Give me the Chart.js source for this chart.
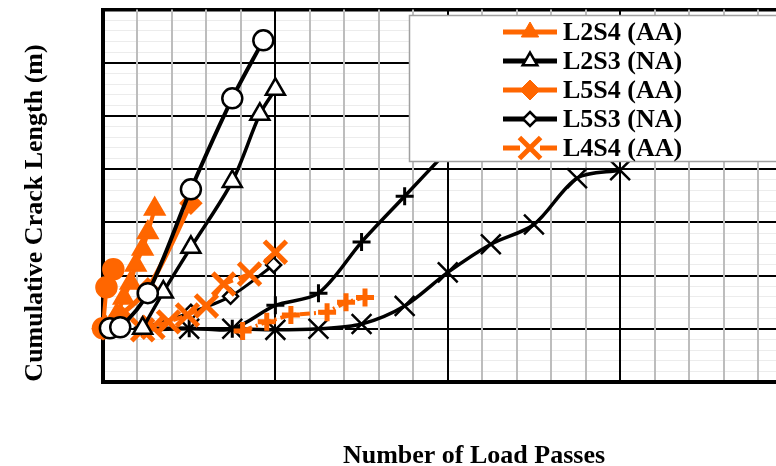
<!DOCTYPE html>
<html>
<head>
<meta charset="utf-8">
<script src="https://cdn.jsdelivr.net/npm/chart.js@4.4.1/dist/chart.umd.min.js"></script>
<style>
html, body { margin: 0; padding: 0; background: #fff; overflow: hidden; }
#grafica { display: block; margin-top: -11px; }
</style>
</head>
<body>
<canvas id="grafica" width="813" height="477"></canvas>
<script>
// Load passes (one major grid division = 1 unit) and crack length (m)
// L2S4 (AA)
const l2s4X = [0.02, 0.08, 0.12, 0.16, 0.19, 0.23, 0.26, 0.30];
const l2s4Y = [1.01, 1.26, 1.58, 1.86, 2.20, 2.50, 2.81, 3.25];
// L2S3 (NA)
const l2s3X = [0.23, 0.35, 0.51, 0.75, 0.91, 1.00];
const l2s3Y = [1.01, 1.69, 2.53, 3.77, 5.03, 5.50];
// L5S4 (AA)
const l5s4X = [0.00, 0.10, 0.26, 0.51];
const l5s4Y = [1.00, 1.25, 1.75, 3.36];
// L5S3 (NA)
const l5s3X = [0.23, 0.51, 0.74, 0.99];
const l5s3Y = [1.01, 1.31, 1.61, 2.20];
// L4S4 (AA)
const l4s4X = [0.23, 0.29, 0.38, 0.49, 0.60, 0.70, 0.85, 1.00];
const l4s4Y = [0.98, 1.03, 1.13, 1.26, 1.43, 1.84, 2.03, 2.44];
// series whose legend entries are outside the picture
const circNaX = [0.04, 0.10, 0.26, 0.51, 0.75, 0.93];
const circNaY = [1.01, 1.03, 1.67, 3.62, 5.33, 6.42];
const circAaX = [0.00, 0.02, 0.06];
const circAaY = [1.01, 1.78, 2.12];
const equisNaX = [0.23, 0.50, 0.75, 1.00, 1.25, 1.50, 1.75, 2.00, 2.25, 2.50, 2.75, 3.00];
const equisNaY = [0.98, 1.00, 1.00, 0.98, 1.00, 1.09, 1.43, 2.06, 2.59, 2.96, 3.83, 3.98];
const cruzNaX = [0.23, 0.50, 0.75, 1.00, 1.25, 1.50, 1.75, 2.00, 2.25];
const cruzNaY = [1.01, 1.01, 1.00, 1.44, 1.67, 2.63, 3.49, 4.35, 5.20];
const cruzAaX = [0.81, 0.95, 1.09, 1.30, 1.41, 1.52];
const cruzAaY = [0.96, 1.13, 1.26, 1.31, 1.50, 1.59];

const naranja = "#ff6600";
// el canvas sube 11px con CSS; lo dibujado a mano baja lo mismo
const OY = 11;

const pts = (xs, ys) => xs.map((x, i) => ({ x: x, y: ys[i] }));

function serie(label, xs, ys, o) {
    return Object.assign({
        label: label,
        data: pts(xs, ys),
        showLine: true,
        tension: 0.3,
        clip: false,
        borderColor: "#000",
        pointBorderColor: "#000",
        pointBackgroundColor: "#fff",
        borderWidth: 3.5,
        pointBorderWidth: 2.5
    }, o);
}

const datasets = [
    serie("L2S4 (AA)", l2s4X, l2s4Y, { order: 3, borderColor: naranja, pointBorderColor: naranja, pointBackgroundColor: naranja, pointStyle: "triangle", pointRadius: 11, borderWidth: 4 }),
    serie("L2S3 (NA)", l2s3X, l2s3Y, { order: 4, pointStyle: "triangle", pointRadius: 11, borderWidth: 3.5 }),
    serie("L5S4 (AA)", l5s4X, l5s4Y, { order: 10, borderColor: naranja, pointBorderColor: naranja, pointBackgroundColor: naranja, pointStyle: "rectRot", pointRadius: 10, borderWidth: 5 }),
    serie("L5S3 (NA)", l5s3X, l5s3Y, { order: 6, pointStyle: "rectRot", pointRadius: 7.5, borderWidth: 3 }),
    serie("L4S4 (AA)", l4s4X, l4s4Y, { order: 5, borderColor: naranja, pointBorderColor: naranja, pointStyle: "crossRot", pointRadius: 15.5, pointBorderWidth: 5, borderWidth: 4, borderDash: [10, 6], tension: 0 }),
    serie("Circle (NA)", circNaX, circNaY, { order: 1, pointStyle: "circle", pointRadius: 10, borderWidth: 4 }),
    serie("Circle (AA)", circAaX, circAaY, { order: 2, borderColor: naranja, pointBorderColor: naranja, pointBackgroundColor: naranja, pointStyle: "circle", pointRadius: 10, borderWidth: 4, tension: 0 }),
    serie("X (NA)", equisNaX, equisNaY, { order: 9, pointStyle: "crossRot", pointRadius: 14, pointBorderWidth: 2.5 }),
    serie("Plus (NA)", cruzNaX, cruzNaY, { order: 8, pointStyle: "cross", pointRadius: 9, pointBorderWidth: 3 }),
    serie("Plus (AA)", cruzAaX, cruzAaY, { order: 7, borderColor: naranja, pointBorderColor: naranja, pointStyle: "cross", pointRadius: 9, pointBorderWidth: 5, borderWidth: 4, borderDash: [10, 4, 2, 4], tension: 0 })
];

const esEntero = v => Math.abs(v - Math.round(v)) < 1e-6;

// marcador para la leyenda
function marcador(ctx, forma, x, y, r, relleno, color, lw) {
    ctx.save();
    ctx.lineWidth = lw;
    ctx.strokeStyle = color;
    ctx.fillStyle = relleno;
    ctx.beginPath();
    if (forma === "triangle") {
        for (let k = 0; k < 3; k++) {
            const a = -Math.PI / 2 + k * 2 * Math.PI / 3;
            const px = x + Math.cos(a) * r, py = y + Math.sin(a) * r;
            k === 0 ? ctx.moveTo(px, py) : ctx.lineTo(px, py);
        }
        ctx.closePath();
        ctx.fill(); ctx.stroke();
    } else if (forma === "rectRot") {
        ctx.moveTo(x, y - r); ctx.lineTo(x + r, y); ctx.lineTo(x, y + r); ctx.lineTo(x - r, y);
        ctx.closePath();
        ctx.fill(); ctx.stroke();
    } else if (forma === "crossRot") {
        const d = r * Math.SQRT1_2;
        ctx.moveTo(x - d, y - d); ctx.lineTo(x + d, y + d);
        ctx.moveTo(x + d, y - d); ctx.lineTo(x - d, y + d);
        ctx.stroke();
    }
    ctx.restore();
}

const entradas = [
    { ds: 0, r: 10, lw: 1 },
    { ds: 1, r: 8.5, lw: 2.5 },
    { ds: 2, r: 10, lw: 1 },
    { ds: 3, r: 7, lw: 2.5 },
    { ds: 4, r: 15, lw: 5, dash: [17, 20] }
];

const leyenda = {
    id: "leyenda",
    afterDraw(chart) {
        const ctx = chart.ctx;
        ctx.save();
        ctx.fillStyle = "#fff";
        ctx.fillRect(409, 15 + OY, 410, 146);
        ctx.strokeStyle = "#a0a0a0";
        ctx.lineWidth = 1.5;
        ctx.strokeRect(409.5, 15.5 + OY, 410, 146);
        entradas.forEach((e, i) => {
            const d = chart.data.datasets[e.ds];
            const y = 32 + OY + i * 29;
            ctx.strokeStyle = d.borderColor;
            ctx.lineWidth = 5;
            ctx.setLineDash(e.dash || []);
            ctx.beginPath();
            ctx.moveTo(503, y);
            ctx.lineTo(557, y);
            ctx.stroke();
            ctx.setLineDash([]);
            marcador(ctx, d.pointStyle, 530, y, e.r, d.pointBackgroundColor, d.pointBorderColor, e.lw);
            ctx.fillStyle = "#000";
            ctx.font = 'bold 26px "Liberation Serif"';
            ctx.textBaseline = "middle";
            ctx.textAlign = "left";
            ctx.fillText(d.label, 563, y + 1);
        });
        ctx.restore();
    }
};

const titulos = {
    id: "titulos",
    afterDraw(chart) {
        const ctx = chart.ctx;
        ctx.save();
        ctx.fillStyle = "#000";
        ctx.font = 'bold 26px "Liberation Serif"';
        ctx.textAlign = "center";
        ctx.textBaseline = "alphabetic";
        ctx.fillText("Number of Load Passes", 474, 463 + OY);
        ctx.translate(42, 213 + OY);
        ctx.rotate(-Math.PI / 2);
        ctx.fillText("Cumulative Crack Length (m)", 0, 0);
        ctx.restore();
    }
};

new Chart(document.getElementById("grafica"), {
    type: "scatter",
    data: { datasets: datasets },
    plugins: [leyenda, titulos],
    options: {
        responsive: false,
        animation: false,
        events: [],
        layout: { padding: { left: 103, top: 9, right: 12, bottom: 84 } },
        plugins: { legend: { display: false }, tooltip: { enabled: false } },
        scales: {
            x: {
                type: "linear",
                min: 0, max: 4,
                ticks: { display: false, stepSize: 0.2, maxTicksLimit: 1000, autoSkip: false },
                grid: {
                    drawTicks: false,
                    color: c => esEntero(c.tick.value) ? "#000" : "#bdbdbd",
                    lineWidth: 2
                },
                border: { color: "#000", width: 4 }
            },
            y: {
                min: 0, max: 7,
                ticks: { display: false, stepSize: 0.2, maxTicksLimit: 1000, autoSkip: false },
                grid: {
                    z: -2,
                    drawTicks: false,
                    color: c => esEntero(c.tick.value) ? "#000" : "#ececec",
                    lineWidth: c => c.tick.value > 6.9 ? 3.5 : (esEntero(c.tick.value) ? 2 : 1)
                },
                border: { color: "#000", width: 4 }
            }
        }
    }
});
</script>
</body>
</html>
